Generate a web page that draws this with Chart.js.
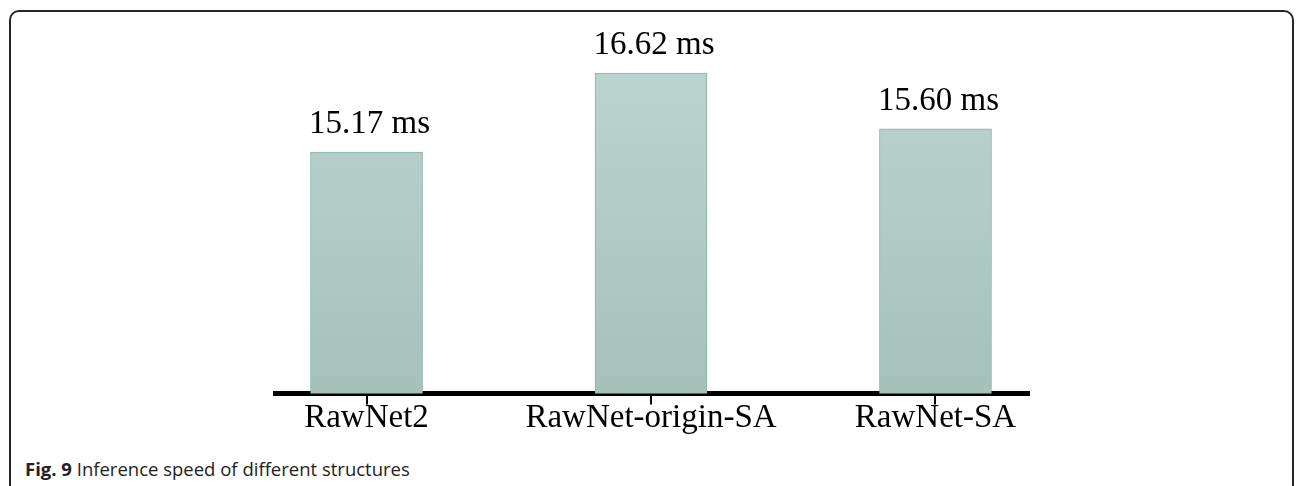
<!DOCTYPE html>
<html>
<head>
<meta charset="utf-8">
<script src="https://cdn.jsdelivr.net/npm/chart.js@4.4.1/dist/chart.umd.min.js"></script>
<style>
  html, body { margin: 0; padding: 0; background: #ffffff; width: 1296px; height: 486px; overflow: hidden; }
  #frame { position: absolute; left: 9px; top: 10px; width: 1285px; height: 520px; box-sizing: border-box;
           border: 2px solid #262626; border-radius: 10px; }
  #wrap { position: absolute; left: 0; top: 0; width: 1296px; height: 440px; }
  #caption { position: absolute; left: 25px; top: 456px; font-family: "Open Sans", sans-serif; font-size: 18.5px;
             color: #222; white-space: nowrap; }
  #caption b { font-weight: 700; }
</style>
</head>
<body>
<div id="frame"></div>
<div id="wrap"><canvas id="c" width="1296" height="440"></canvas></div>
<div id="caption"><b>Fig. 9</b> Inference speed of different structures</div>
<script>
const categories = ["RawNet2", "RawNet-origin-SA", "RawNet-SA"];
const speedsMs = [15.17, 16.62, 15.60];
const valueLabels = ["15.17 ms", "16.62 ms", "15.60 ms"];

const serif = '"Liberation Serif", "Times New Roman", serif';

const valueLabelPlugin = {
  id: 'valueLabels',
  afterDatasetsDraw(chart) {
    const ctx = chart.ctx;
    const meta = chart.getDatasetMeta(0);
    ctx.save();
    ctx.font = '33px ' + serif;
    ctx.fillStyle = '#000';
    ctx.textAlign = 'center';
    ctx.textBaseline = 'alphabetic';
    meta.data.forEach((bar, i) => {
      ctx.fillText(valueLabels[i], bar.x + 3, bar.y - 19);
    });
    ctx.restore();
  }
};

new Chart(document.getElementById('c'), {
  type: 'bar',
  data: {
    datasets: [{
      data: categories.map((c, i) => ({ x: i, y: speedsMs[i] })),
      backgroundColor: (context) => {
        const area = context.chart.chartArea;
        if (!area) return '#b2cbc5';
        const g = context.chart.ctx.createLinearGradient(0, area.top, 0, area.bottom);
        g.addColorStop(0, '#bed5d1');
        g.addColorStop(1, '#a5c1ba');
        return g;
      },
      borderColor: '#86b0a6',
      borderWidth: 1,
      borderSkipped: 'start',
      barThickness: 112
    }]
  },
  options: {
    responsive: false,
    devicePixelRatio: 1,
    animation: false,
    layout: { padding: { left: 275.5, right: 267.5, top: 30, bottom: 0 } },
    plugins: { legend: { display: false }, tooltip: { enabled: false } },
    scales: {
      x: {
        type: 'linear',
        offset: false,
        min: -0.32,
        max: 2.327,
        z: 1,
        border: { display: true, color: '#000', width: 5 },
        grid: { display: true, offset: false, drawOnChartArea: false, drawTicks: true, tickLength: 11, color: '#000', lineWidth: 2 },
        afterBuildTicks: (scale) => { scale.ticks = categories.map((c, i) => ({ value: i })); },
        afterFit: (scale) => { scale.height = 46.5; },
        ticks: {
          autoSkip: false,
          maxRotation: 0,
          padding: -6,
          color: '#000',
          font: { family: serif, size: 33 },
          callback: (v) => categories[v]
        }
      },
      y: {
        display: false,
        min: 10.741,
        max: 17.413
      }
    }
  },
  plugins: [valueLabelPlugin]
});
</script>
</body>
</html>
